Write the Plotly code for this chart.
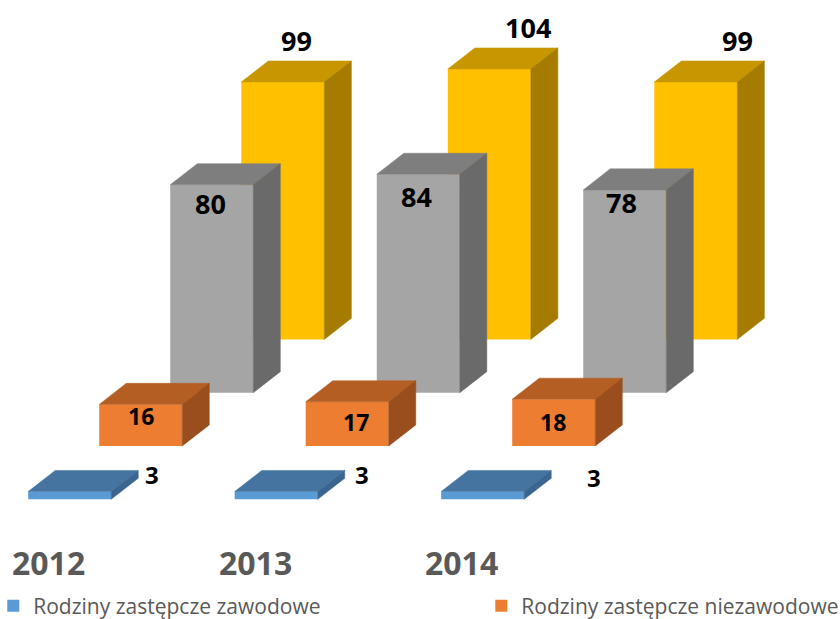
import plotly.graph_objects as go

# ---------------- data ----------------
years = ["2012", "2013", "2014"]
series_names = [
    "Rodziny zastępcze zawodowe",
    "Rodziny zastępcze niezawodowe",
    "Seria 3",
    "Seria 4",
]
zawodowe = [3, 3, 3]
niezawodowe = [16, 17, 18]
seria3 = [80, 84, 78]
seria4 = [99, 104, 99]
values = [zawodowe, niezawodowe, seria3, seria4]

# ---------------- style ----------------
front_col = ["#5B9BD5", "#ED7D31", "#A5A5A5", "#FFC000"]
top_col = ["#44749F", "#B55E23", "#7E7E7E", "#C89700"]
side_col = ["#3A6590", "#9A4E1D", "#6A6A6A", "#A57B00"]

W = 0.402        # bar width (category units)
STEP_X = 0.344   # series shift in depth (x)
STEP_Y = 20.5    # series shift in depth (value units)
DX = 0.131       # box depth (x)
DY = 8.1         # box depth (value units)

FONT = "Open Sans"

# label nudges in pixels (xshift, yshift) per series / year
nudge = [
    [(14, -4), (17, -4), (43, -7)],
    [(0, -12), (9, -20), (-1, -23)],
    [(-1, -19), (-2, -22), (-3, -13)],
    [(0, 20), (25, 20), (28, 20)],
]
label_size = [24, 23, 27, 27]
legend_ids = ["legend", "legend2", None, None]

fig = go.Figure()
annotations = []

for i in [3, 2, 1, 0]:
    vals = values[i]
    xs = [j + i * STEP_X for j in range(len(years))]
    base = i * STEP_Y
    bar_kw = dict(
        x=xs, y=vals, base=[base] * len(vals), width=W,
        marker=dict(color=front_col[i], line=dict(width=0)),
        name=series_names[i], showlegend=legend_ids[i] is not None,
        hoverinfo="skip",
    )
    if legend_ids[i] is not None:
        bar_kw["legend"] = legend_ids[i]
    fig.add_trace(go.Bar(**bar_kw))
    tx, ty, sx, sy = [], [], [], []
    for xc, v in zip(xs, vals):
        x0, x1 = xc - W / 2, xc + W / 2
        top = base + v
        tx += [x0, x0 + DX, x1 + DX, x1, x0, None]
        ty += [top, top + DY, top + DY, top, top, None]
        sx += [x1, x1 + DX, x1 + DX, x1, x1, None]
        sy += [base, base + DY, top + DY, top, base, None]
    fig.add_trace(go.Scatter(
        x=tx, y=ty, fill="toself", fillcolor=top_col[i], mode="lines",
        line=dict(color=top_col[i], width=0.5), showlegend=False, hoverinfo="skip",
    ))
    fig.add_trace(go.Scatter(
        x=sx, y=sy, fill="toself", fillcolor=side_col[i], mode="lines",
        line=dict(color=side_col[i], width=0.5), showlegend=False, hoverinfo="skip",
    ))
    for j, (xc, v) in enumerate(zip(xs, vals)):
        top = base + v
        if i == 0:
            ax, ay = xc + W / 2 + DX, top + DY
        elif i == 3:
            ax, ay = xc + DX / 2, top + DY
        else:
            ax, ay = xc, top
        annotations.append(dict(
            x=ax, y=ay, xref="x", yref="y", text=str(v), showarrow=False,
            xanchor="center", yanchor="middle",
            xshift=nudge[i][j][0], yshift=nudge[i][j][1],
            font=dict(family=FONT, size=label_size[i], color="#000000", weight="bold"),
        ))

# category labels
for j, y in enumerate(years):
    annotations.append(dict(
        x=j, y=0.0905, xref="x", yref="paper", text=y, showarrow=False,
        xanchor="center", yanchor="middle", xshift=-21,
        font=dict(family=FONT, size=32, color="#595959", weight="bold"),
    ))

legend_style = dict(
    orientation="h", yanchor="middle", y=0.021, xanchor="left", itemwidth=30,
    font=dict(family=FONT, size=21, color="#595959"),
    bgcolor="rgba(0,0,0,0)",
)

fig.update_layout(
    width=840, height=619,
    margin=dict(l=0, r=0, t=0, b=0, autoexpand=False),
    paper_bgcolor="white", plot_bgcolor="white",
    barmode="overlay",
    xaxis=dict(range=[-0.3375, 3.7303], visible=False, fixedrange=True),
    yaxis=dict(range=[-46.04, 192.04], visible=False, fixedrange=True),
    showlegend=True,
    legend=dict(x=-0.008, **legend_style),
    legend2=dict(x=0.573, **legend_style),
    hovermode=False,
    annotations=annotations,
)

fig.write_html(
    "out.html",
    config={"displayModeBar": False},
    post_script="document.body.style.margin='0';document.body.style.overflow='hidden';",
)
